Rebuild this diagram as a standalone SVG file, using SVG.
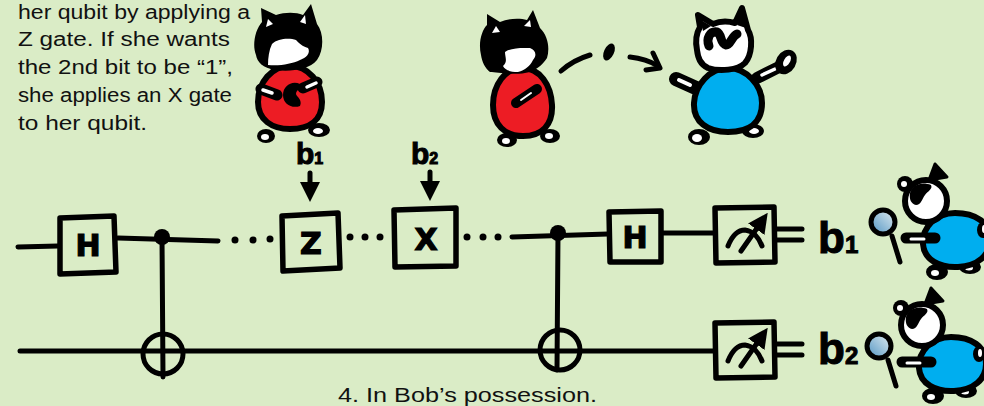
<svg xmlns="http://www.w3.org/2000/svg" xmlns:xlink="http://www.w3.org/1999/xlink" width="984" height="406" viewBox="0 0 984 406">
  <style>
    .ink { fill: none; stroke: #000; stroke-width: 5; stroke-linecap: round; stroke-linejoin: round; }
    .box { fill: none; stroke: #000; stroke-width: 5.5; stroke-linecap: round; stroke-linejoin: round; }
    .dot { fill: #000; }
    .note { font-family: "Liberation Sans", "DejaVu Sans", sans-serif; font-size: 20px; fill: #111; }
    .gate { font-family: "DejaVu Sans", "Liberation Sans", sans-serif; font-weight: bold; font-size: 30px; fill: #000; stroke: #000; stroke-width: 1.2; text-anchor: middle; }
    .bit { font-family: "Liberation Sans", "DejaVu Sans", sans-serif; font-weight: bold; fill: #000; stroke: #000; stroke-width: 1; }
    .outline { stroke: #000; stroke-width: 6; stroke-linejoin: round; stroke-linecap: round; }
    .red { fill: #ed1c24; }
    .blue { fill: #00aeef; }
    .white { fill: #fff; }
    .black { fill: #000; }
  </style>
  <defs>
    <linearGradient id="lensFill" x1="0" y1="1" x2="1" y2="0">
      <stop offset="0" stop-color="#4f93c2"/>
      <stop offset="1" stop-color="#e4eef2"/>
    </linearGradient>
    <marker id="tip" viewBox="0 0 10 10" refX="5" refY="5" markerWidth="4" markerHeight="4" orient="auto">
      <path d="M0,0 L10,5 L0,10 Z" fill="#000"/>
    </marker>
    <!-- Bob with his magnifying glass -->
    <g id="bob-cat">
      <ellipse cx="937" cy="272" rx="11" ry="8" class="black"/>
      <ellipse cx="935" cy="273" rx="4" ry="3" class="white"/>
      <ellipse cx="970" cy="267" rx="11" ry="7" class="black"/>
      <ellipse cx="969" cy="268" rx="4" ry="2.5" class="white"/>
      <path class="blue outline" d="M955 213 C935 213 922 228 923 244 C924 260 940 268 958 267 C978 266 990 255 990 240 C990 222 975 213 955 213 Z"/>
      <ellipse cx="983" cy="230" rx="6" ry="8" class="black"/>
      <ellipse cx="984" cy="229" rx="2" ry="4" class="white"/>
      <polygon points="929,180 935,164 947,177" class="black" stroke="#000" stroke-width="3" stroke-linejoin="round"/>
      <circle cx="926" cy="201" r="21" class="white outline"/>
      <circle cx="905" cy="184" r="8" class="black"/>
      <circle cx="904" cy="184" r="3" class="white"/>
      <path class="black" d="M910 193 C912 185 922 181 931 185 C933 189 928 191 925 195 C922 199 921 205 916 205 C911 204 909 199 910 193 Z"/>
      <line x1="906" y1="238" x2="935" y2="238" stroke="#000" stroke-width="11" stroke-linecap="round"/>
      <line x1="911" y1="239" x2="924" y2="239" stroke="#fff" stroke-width="3" stroke-linecap="round"/>
      <line x1="892" y1="236" x2="900" y2="262" class="ink"/>
      <circle cx="883" cy="222" r="12" fill="url(#lensFill)" stroke="#000" stroke-width="5"/>
    </g>
  </defs>

  <rect width="984" height="406" fill="#daecc6"/>

  <!-- story text -->
  <g id="caption-top">
    <text class="note" x="18" y="19" textLength="232" lengthAdjust="spacingAndGlyphs">her qubit by applying a</text>
    <text class="note" x="18" y="46" textLength="212" lengthAdjust="spacingAndGlyphs">Z gate. If she wants</text>
    <text class="note" x="18" y="74" textLength="215" lengthAdjust="spacingAndGlyphs">the 2nd bit to be “1”,</text>
    <text class="note" x="18" y="102" textLength="214" lengthAdjust="spacingAndGlyphs">she applies an X gate</text>
    <text class="note" x="18" y="130" textLength="129" lengthAdjust="spacingAndGlyphs">to her qubit.</text>
  </g>
  <g id="caption-bottom">
    <text class="note" x="338" y="402" textLength="259" lengthAdjust="spacingAndGlyphs">4. In Bob’s possession.</text>
  </g>

  <!-- Alice, arms folded -->
  <g id="alice-waiting">
    <ellipse cx="266" cy="136" rx="9" ry="7" class="black"/>
    <ellipse cx="265" cy="137" rx="4" ry="3" class="white"/>
    <ellipse cx="319" cy="130" rx="11" ry="7" class="black"/>
    <ellipse cx="318" cy="131" rx="5" ry="3" class="white"/>
    <path class="red outline" d="M290 66 C272 66 258 82 258 102 C258 120 272 129 290 129 C310 129 322 120 322 102 C322 82 308 66 290 66 Z"/>
    <path class="black" d="M256 55 C252 45 255 30 262 22 L261 8 L276 15 C285 12 296 12 303 15 L311 4 L317 24 C324 33 324 50 317 60 C309 70 290 72 275 70 C263 68 257 62 256 55 Z"/>
    <polygon points="266,27 268,19 273,24" class="white"/>
    <polygon points="300,22 305,15 306,24" class="white"/>
    <path class="white" d="M272 44 C278 38 290 38 296 40 C300 44 302 46 308 48 C311 53 306 58 300 60 C292 64 280 66 268 65 C268 58 269 50 272 44 Z"/>
    <line x1="261" y1="89" x2="277" y2="95" stroke="#000" stroke-width="11" stroke-linecap="round"/>
    <line x1="263" y1="90" x2="272" y2="93" stroke="#fff" stroke-width="3.5" stroke-linecap="round"/>
    <line x1="303" y1="88" x2="317" y2="82" stroke="#000" stroke-width="11" stroke-linecap="round"/>
    <line x1="307" y1="87" x2="316" y2="83" stroke="#fff" stroke-width="3.5" stroke-linecap="round"/>
    <path class="black" d="M300 84 C292 80 283 86 283 95 C283 104 292 109 300 106 C303 100 296 96 296 94 C296 90 302 88 300 84 Z"/>
  </g>

  <!-- Alice sending her qubit -->
  <g id="alice-sending">
    <ellipse cx="507" cy="140" rx="10" ry="7" class="black"/>
    <ellipse cx="506" cy="141" rx="4" ry="3" class="white"/>
    <ellipse cx="550" cy="136" rx="10" ry="7" class="black"/>
    <ellipse cx="549" cy="136" rx="4" ry="3" class="white"/>
    <path class="red outline" d="M522 68 C505 68 493 85 493 105 C493 125 505 136 523 136 C542 136 553 125 552 105 C551 85 540 68 522 68 Z"/>
    <path class="black" d="M481 55 C478 42 482 30 487 25 L487 14 L500 22 C510 18 520 18 527 20 L533 10 L540 28 C548 36 550 48 547 58 C542 66 535 70 530 72 C515 76 498 72 490 72 C485 68 482 62 481 55 Z"/>
    <polygon points="492,33 496,26 500,32" class="white"/>
    <polygon points="524,26 530,20 531,27" class="white"/>
    <path class="white" d="M505 52 C512 47 525 48 530 48 C536 50 537 56 533 60 C530 66 525 70 518 72 C510 72 505 70 503 66 C508 62 505 57 505 52 Z"/>
    <line x1="516" y1="103" x2="537" y2="89" stroke="#000" stroke-width="10" stroke-linecap="round"/>
    <line x1="521" y1="100" x2="531" y2="93" stroke="#fff" stroke-width="2" stroke-linecap="round"/>
  </g>

  <!-- Bob catching the qubit -->
  <g id="bob-receiving">
    <ellipse cx="699" cy="137" rx="11" ry="8" class="black"/>
    <ellipse cx="697" cy="138" rx="5" ry="4" class="white"/>
    <ellipse cx="753" cy="131" rx="11" ry="7" class="black"/>
    <ellipse cx="754" cy="131" rx="5" ry="3" class="white"/>
    <line x1="676" y1="79" x2="696" y2="88" stroke="#000" stroke-width="14" stroke-linecap="round"/>
    <line x1="679" y1="80" x2="690" y2="85" stroke="#fff" stroke-width="4" stroke-linecap="round"/>
    <line x1="757" y1="78" x2="781" y2="66" stroke="#000" stroke-width="12" stroke-linecap="round"/>
    <line x1="762" y1="75" x2="775" y2="69" stroke="#fff" stroke-width="3.5" stroke-linecap="round"/>
    <ellipse cx="786" cy="62" rx="10" ry="13" class="black" transform="rotate(30 786 62)"/>
    <ellipse cx="787" cy="61" rx="3" ry="6" class="white" transform="rotate(30 787 61)"/>
    <path class="blue outline" d="M728 68 C710 68 695 85 694 103 C693 122 708 132 728 132 C750 132 762 122 762 103 C762 85 746 68 728 68 Z"/>
    <path class="white outline" d="M697 50 C695 40 697 32 700 27 L698 15 L713 24 C720 21 728 21 735 23 L742 8 L748 30 C753 38 752 55 745 63 C738 70 720 72 708 68 C700 64 698 58 697 50 Z"/>
    <polygon points="701,20 711,26 703,31" class="black"/>
    <polygon points="741,12 746,28 737,25" class="black"/>
    <path d="M709 46 C706 38 710 31 717 32 C722 34 720 44 726 45 C731 45 731 37 737 34" fill="none" stroke="#000" stroke-width="9" stroke-linecap="round" stroke-linejoin="round"/>
  </g>

  <!-- Bob measuring -->
  <g id="bob-reading-b1"><use xlink:href="#bob-cat"/></g>
  <g id="bob-reading-b2"><use xlink:href="#bob-cat" transform="translate(-4 124)"/></g>

  <!-- wires, dots and arrows -->
  <g id="connectors">
    <path class="ink" d="M18 247 L58 246"/>
    <path class="ink" d="M118 238 L218 241"/>
    <circle class="dot" cx="235" cy="240" r="3.5"/>
    <circle class="dot" cx="253" cy="240" r="3.5"/>
    <circle class="dot" cx="270" cy="239" r="3.5"/>
    <circle class="dot" cx="350" cy="237" r="3.5"/>
    <circle class="dot" cx="365" cy="237" r="3.5"/>
    <circle class="dot" cx="380" cy="237" r="3.5"/>
    <circle class="dot" cx="467" cy="237" r="3.5"/>
    <circle class="dot" cx="483" cy="237" r="3.5"/>
    <circle class="dot" cx="498" cy="237" r="3.5"/>
    <path class="ink" d="M512 237 L608 234"/>
    <path class="ink" d="M663 233 L714 233"/>
    <path class="ink" d="M20 351 L714 351"/>
    <path class="ink" d="M162 237 L163 377"/>
    <path class="ink" d="M558 233 L557 370"/>
    <path class="ink" d="M776 229 L802 229 M776 240 L802 240"/>
    <path class="ink" d="M776 344 L802 344 M776 355 L802 355"/>
    <path class="ink" d="M310 173 L310 192" marker-end="url(#tip)"/>
    <path class="ink" d="M430 172 L430 191" marker-end="url(#tip)"/>
    <path class="ink" d="M561 71 C570 63 580 58 590 55" stroke-width="6"/>
    <ellipse cx="609" cy="52" rx="5" ry="9" transform="rotate(25 609 52)" class="black"/>
    <path class="ink" d="M630 57 C640 58 650 61 658 66" stroke-width="6"/>
    <path class="ink" d="M653 53 L660 68 L646 70" stroke-width="6"/>
  </g>

  <!-- gates -->
  <g id="h-gate-1">
    <path class="box" d="M60 218 L114 216 L116 272 L60 274 Z"/>
    <text class="gate" x="88" y="256">H</text>
  </g>
  <g id="cnot-1">
    <circle class="dot" cx="162" cy="237" r="8"/>
    <circle class="ink" cx="163" cy="354" r="20"/>
  </g>
  <g id="z-gate">
    <path class="box" d="M282 216 L338 213 L340 268 L283 271 Z"/>
    <text class="gate" x="311" y="254">Z</text>
  </g>
  <g id="x-gate">
    <path class="box" d="M394 210 L456 208 L456 266 L395 267 Z"/>
    <text class="gate" x="426" y="250">X</text>
  </g>
  <g id="cnot-2">
    <circle class="dot" cx="558" cy="233" r="8"/>
    <circle class="ink" cx="560" cy="350" r="20"/>
  </g>
  <g id="h-gate-2">
    <path class="box" d="M609 212 L661 211 L661 262 L610 262 Z"/>
    <text class="gate" x="635" y="248">H</text>
  </g>
  <g id="measure-1">
    <path class="box" d="M715 208 L774 207 L775 262 L716 263 Z"/>
    <path class="ink" d="M728 246 C732 236 738 230 745 230 C753 231 759 238 762 246" stroke-width="6"/>
    <path class="ink" d="M741 251 L762 221" stroke-width="6" marker-end="url(#tip)"/>
  </g>
  <g id="measure-2">
    <path class="box" d="M715 323 L774 322 L775 377 L716 378 Z"/>
    <path class="ink" d="M728 361 C732 351 738 345 745 345 C753 346 759 353 762 361" stroke-width="6"/>
    <path class="ink" d="M741 366 L762 336" stroke-width="6" marker-end="url(#tip)"/>
  </g>

  <!-- classical bit labels -->
  <g id="label-b1-input">
    <text class="bit" x="296" y="164" font-size="30">b<tspan font-size="16">1</tspan></text>
  </g>
  <g id="label-b2-input">
    <text class="bit" x="411" y="164" font-size="30">b<tspan font-size="16">2</tspan></text>
  </g>
  <g id="label-b1-output">
    <text class="bit" x="818" y="253" font-size="44">b<tspan font-size="24">1</tspan></text>
  </g>
  <g id="label-b2-output">
    <text class="bit" x="818" y="364" font-size="44">b<tspan font-size="24">2</tspan></text>
  </g>
</svg>
